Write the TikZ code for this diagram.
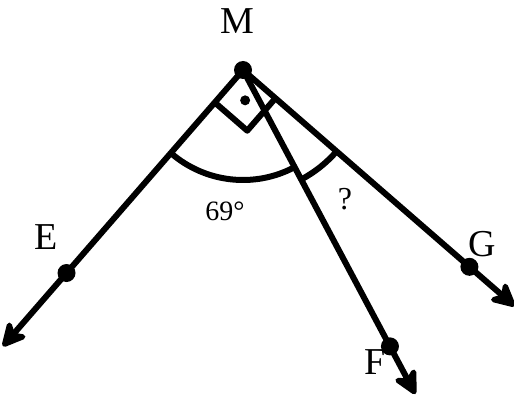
\documentclass[tikz,border=0pt]{standalone}
\usepackage{fontspec}
\setmainfont{Liberation Serif}
\usetikzlibrary{calc,arrows.meta}
\begin{document}
\begin{tikzpicture}[x=1pt,y=1pt,
  ray/.style={line width=6pt,-{Stealth[length=30pt,width=30pt,inset=9pt,round]}},
  seg/.style={line width=6pt,line join=round},
  dot/.style={circle,fill=black,inner sep=0pt,minimum size=18pt},
  smalldot/.style={circle,fill=black,inner sep=0pt,minimum size=10pt},
  biglabel/.style={font=\fontsize{38}{38}\selectfont,inner sep=0pt},
  anglabel/.style={font=\fontsize{28}{28}\selectfont,inner sep=0pt}]
\useasboundingbox (0,0) rectangle (514,394);
\coordinate (M0) at (243,324);
\coordinate (Etip) at ($(M0)+(229:366)$);
\coordinate (Ftip) at ($(M0)+(298:367)$);
\coordinate (Gtip) at ($(M0)+(319:360)$);
% rays
\draw[ray] (M0) -- (Etip);
\draw[ray] (M0) -- (Ftip);
\draw[ray] (M0) -- (Gtip);
% right-angle mark
\coordinate (sE) at ($(M0)+(229:43)$);
\coordinate (sG) at ($(M0)+(319:43)$);
\coordinate (sC) at ($(sE)+(sG)-(M0)$);
\draw[seg] (sE) -- (sC) -- (sG);
\node[smalldot] (rdot) at ($(M0)!0.5!(sC)$) {};
% angle arcs
\draw[seg] ($(M0)+(229:110)$) arc[start angle=229, end angle=298, radius=110];
\draw[seg] ($(M0)+(298:124)$) arc[start angle=298, end angle=319, radius=124];
% points
\node[dot] (M) at (M0) {};
\node[dot] (E) at ($(M0)+(229:269)$) {};
\node[dot] (F) at ($(M0)+(298:313)$) {};
\node[dot] (G) at ($(M0)+(319:300)$) {};
% labels
\node[biglabel] (lM) at (237,373) {M};
\node[biglabel] (lE) at (46,157) {E};
\node[biglabel] (lF) at (375,32) {F};
\node[biglabel] (lG) at (482,150) {G};
\node[anglabel] (l69) at (225,183) {69°};
\node[anglabel,font=\fontsize{32}{32}\selectfont] (lq) at (345,195) {?};
\end{tikzpicture}
\end{document}
